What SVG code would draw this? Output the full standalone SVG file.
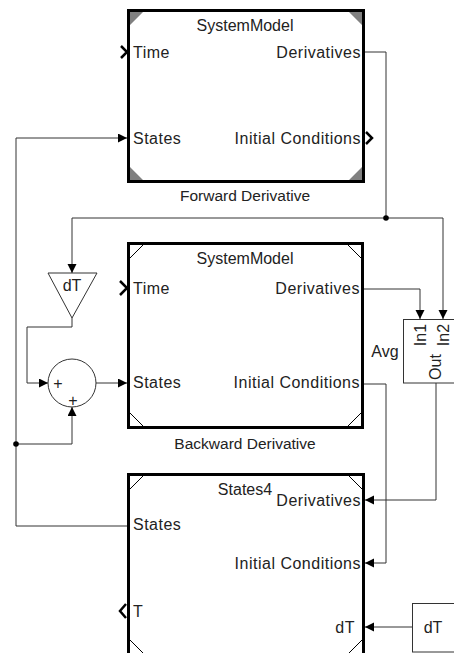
<svg xmlns="http://www.w3.org/2000/svg" width="454" height="653" viewBox="0 0 454 653">
<defs>
<marker id="arr" markerUnits="userSpaceOnUse" markerWidth="10" markerHeight="10" refX="9" refY="4.5" orient="auto">
<path d="M0,0 L9,4.5 L0,9 z" fill="#000"/>
</marker>
<style>
text{font-family:"Liberation Sans",Arial,sans-serif;font-size:16px;fill:#222}
.p{letter-spacing:0.5px}
.blk{fill:#fff;stroke:#000;stroke-width:3}
.cl{fill:none;stroke:#000;stroke-width:1}
.cg{fill:#808080;stroke:none}
.port{fill:none;stroke:#000;stroke-width:2.5}
.w{fill:none;stroke:#333;stroke-width:1}
.wa{fill:none;stroke:#333;stroke-width:1;marker-end:url(#arr)}
.thin{fill:#fff;stroke:#333;stroke-width:1}
.m{text-anchor:middle}
.e{text-anchor:end}
</style>
</defs>
<rect width="454" height="653" fill="#fff"/>

<g id="connectors">
<path class="w" d="M365,52 H386 V218"/>
<path class="wa" d="M386,218 H443 V319"/>
<path class="wa" d="M386,218 H72 V273"/>
<path class="wa" d="M72,318 V327 H27 V383 H48"/>
<path class="wa" d="M96,383 H127"/>
<path class="wa" d="M16,444 H72 V407"/>
<path class="wa" d="M127,526 H16 V138 H127"/>
<path class="wa" d="M364,289 H420 V319"/>
<path class="wa" d="M364,384 H386 V563 H365"/>
<path class="wa" d="M436,383 V500 H365"/>
<path class="wa" d="M412,627 H365"/>
<circle cx="386" cy="218" r="2.8" fill="#000"/>
<circle cx="16" cy="444" r="2.8" fill="#000"/>
</g>

<g id="forward">
<rect class="blk" x="128.5" y="10.5" width="235" height="171"/>
<path class="cg" d="M130,12 H143 L130,25 z M362,12 H349 L362,25 z M130,180 H143 L130,167 z M362,180 H349 L362,167 z"/>
<path class="port" d="M121,46 L127,52 L121,58"/>
<path class="port" d="M366,132 L372,138 L366,144"/>
<text class="m" x="245" y="31">SystemModel</text>
<text class="p" x="133" y="57.5">Time</text>
<text class="e p" x="361" y="57.5">Derivatives</text>
<text class="p" x="133" y="143.5">States</text>
<text class="e p" x="361" y="143.5">Initial Conditions</text>
<text class="m" x="245" y="200.5" style="font-size:15.5px">Forward Derivative</text>
</g>

<g id="backward">
<rect class="blk" x="128.5" y="243.5" width="234" height="184"/>
<path class="cl" d="M130,258 L143,245 M361,258 L348,245 M130,413 L143,426 M361,413 L348,426"/>
<path class="port" d="M120,281 L127,288 L120,295"/>
<text class="m" x="245" y="263.5">SystemModel</text>
<text class="p" x="133" y="293.5">Time</text>
<text class="e p" x="360" y="293.5">Derivatives</text>
<text class="p" x="133" y="387.5">States</text>
<text class="e p" x="360" y="387.5">Initial Conditions</text>
<text class="m" x="245" y="448.5" style="font-size:15.5px">Backward Derivative</text>
</g>

<g id="states4">
<rect class="blk" x="128.5" y="474.5" width="235" height="181"/>
<path class="cl" d="M130,489 L143,476 M362,489 L349,476 M130,640 L143,653 M362,640 L349,653"/>
<path class="port" d="M126,604 L120,611 L126,618"/>
<text class="m" x="245" y="494.5">States4</text>
<text class="e p" x="361" y="505.5">Derivatives</text>
<text class="p" x="133" y="529.5">States</text>
<text class="e p" x="361" y="568.5">Initial Conditions</text>
<text class="p" x="133" y="616.5">T</text>
<text class="e p" x="355" y="632.5">dT</text>
</g>

<g id="gain">
<polygon class="thin" points="48,273 97,273 72,318"/>
<text class="m" x="72" y="290.5">dT</text>
</g>

<g id="sum">
<circle class="thin" cx="72" cy="383" r="24"/>
<text class="m" x="58" y="389" style="font-size:16px">+</text>
<text class="m" x="73" y="406" style="font-size:16px">+</text>
</g>

<g id="avg">
<rect class="thin" x="403.5" y="319.5" width="60" height="63.5"/>
<text class="m" x="385" y="356.5">Avg</text>
<text class="m" transform="translate(425.5,335) rotate(-90)">In1</text>
<text class="m" transform="translate(448.5,335) rotate(-90)">In2</text>
<text class="m" transform="translate(441,367) rotate(-90)">Out</text>
</g>

<g id="dTsrc">
<rect class="thin" x="412.5" y="603.5" width="60" height="48.5"/>
<text class="m" x="433" y="633">dT</text>
</g>
</svg>
